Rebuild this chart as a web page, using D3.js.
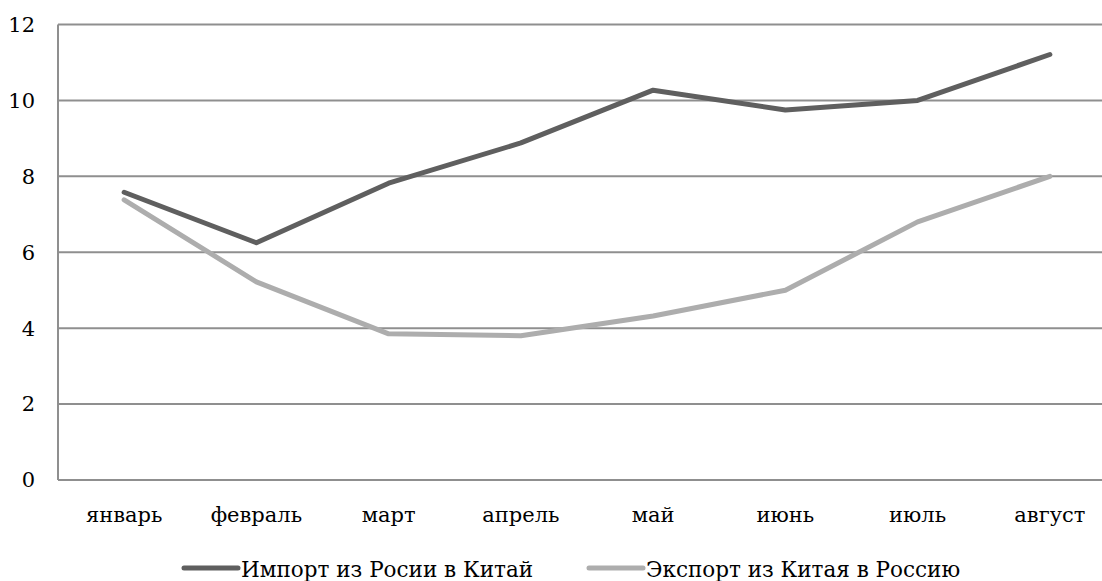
<!DOCTYPE html>
<html><head><meta charset="utf-8">
<script src="https://cdn.jsdelivr.net/npm/d3@7"></script>
<style>body{margin:0;background:#fff}svg{display:block}</style>
</head><body>
<svg id="c" width="1102" height="581"></svg>
<script>
const categories = ["январь","февраль","март","апрель","май","июнь","июль","август"];
const importValues = [7.58, 6.25, 7.82, 8.88, 10.27, 9.75, 10.0, 11.21];
const exportValues = [7.38, 5.22, 3.85, 3.8, 4.32, 5.0, 6.8, 8.0];
const seriesNames = ["Импорт из Росии в Китай", "Экспорт из Китая в Россию"];
const yTicks = [0, 2, 4, 6, 8, 10, 12];

(function () {
const FONT = "'DejaVu Serif', serif";
const svg = d3.select("#c").attr("font-family", FONT);
const mLeft = 58, mRight = 1116, mTop = 24.5, mBottom = 480;
const x = d3.scalePoint().domain(categories).range([mLeft, mRight]).padding(0.5);
const y = d3.scaleLinear().domain([0, 12]).range([mBottom, mTop]);

svg.append("g").selectAll("line").data(yTicks).join("line")
  .attr("x1", mLeft).attr("x2", mRight)
  .attr("y1", d => y(d)).attr("y2", d => y(d))
  .attr("stroke", "#8f8f8f").attr("stroke-width", 2);
svg.append("line").attr("x1", mLeft).attr("x2", mLeft).attr("y1", mTop).attr("y2", mBottom)
  .attr("stroke", "#8f8f8f").attr("stroke-width", 2);

svg.append("g").selectAll("text").data(yTicks).join("text")
  .attr("font-family", FONT)
  .attr("x", 35).attr("y", d => y(d)).attr("dy", "0.35em")
  .attr("text-anchor", "end").attr("font-size", 21).text(d => d);

svg.append("g").selectAll("text").data(categories).join("text")
  .attr("font-family", FONT)
  .attr("x", d => x(d)).attr("y", 522)
  .attr("text-anchor", "middle").attr("font-size", 21).text(d => d);

const line = d3.line().x((d, i) => x(categories[i])).y(d => y(d));
const colors = ["#5f5f5f", "#adadad"];
[importValues, exportValues].forEach((vals, k) => {
  svg.append("path").datum(vals).attr("d", line)
    .attr("fill", "none").attr("stroke", colors[k]).attr("stroke-width", 5)
    .attr("stroke-linejoin", "round").attr("stroke-linecap", "round");
});

const legX = [184, 589];
seriesNames.forEach((n, k) => {
  svg.append("line").attr("x1", legX[k]).attr("x2", legX[k] + 54)
    .attr("y1", 568).attr("y2", 568)
    .attr("stroke", colors[k]).attr("stroke-width", 5).attr("stroke-linecap", "round");
  svg.append("text").attr("font-family", FONT)
    .attr("x", legX[k] + 57).attr("y", 577)
    .attr("font-size", 21.5).text(n);
});
})();
</script>
</body></html>
